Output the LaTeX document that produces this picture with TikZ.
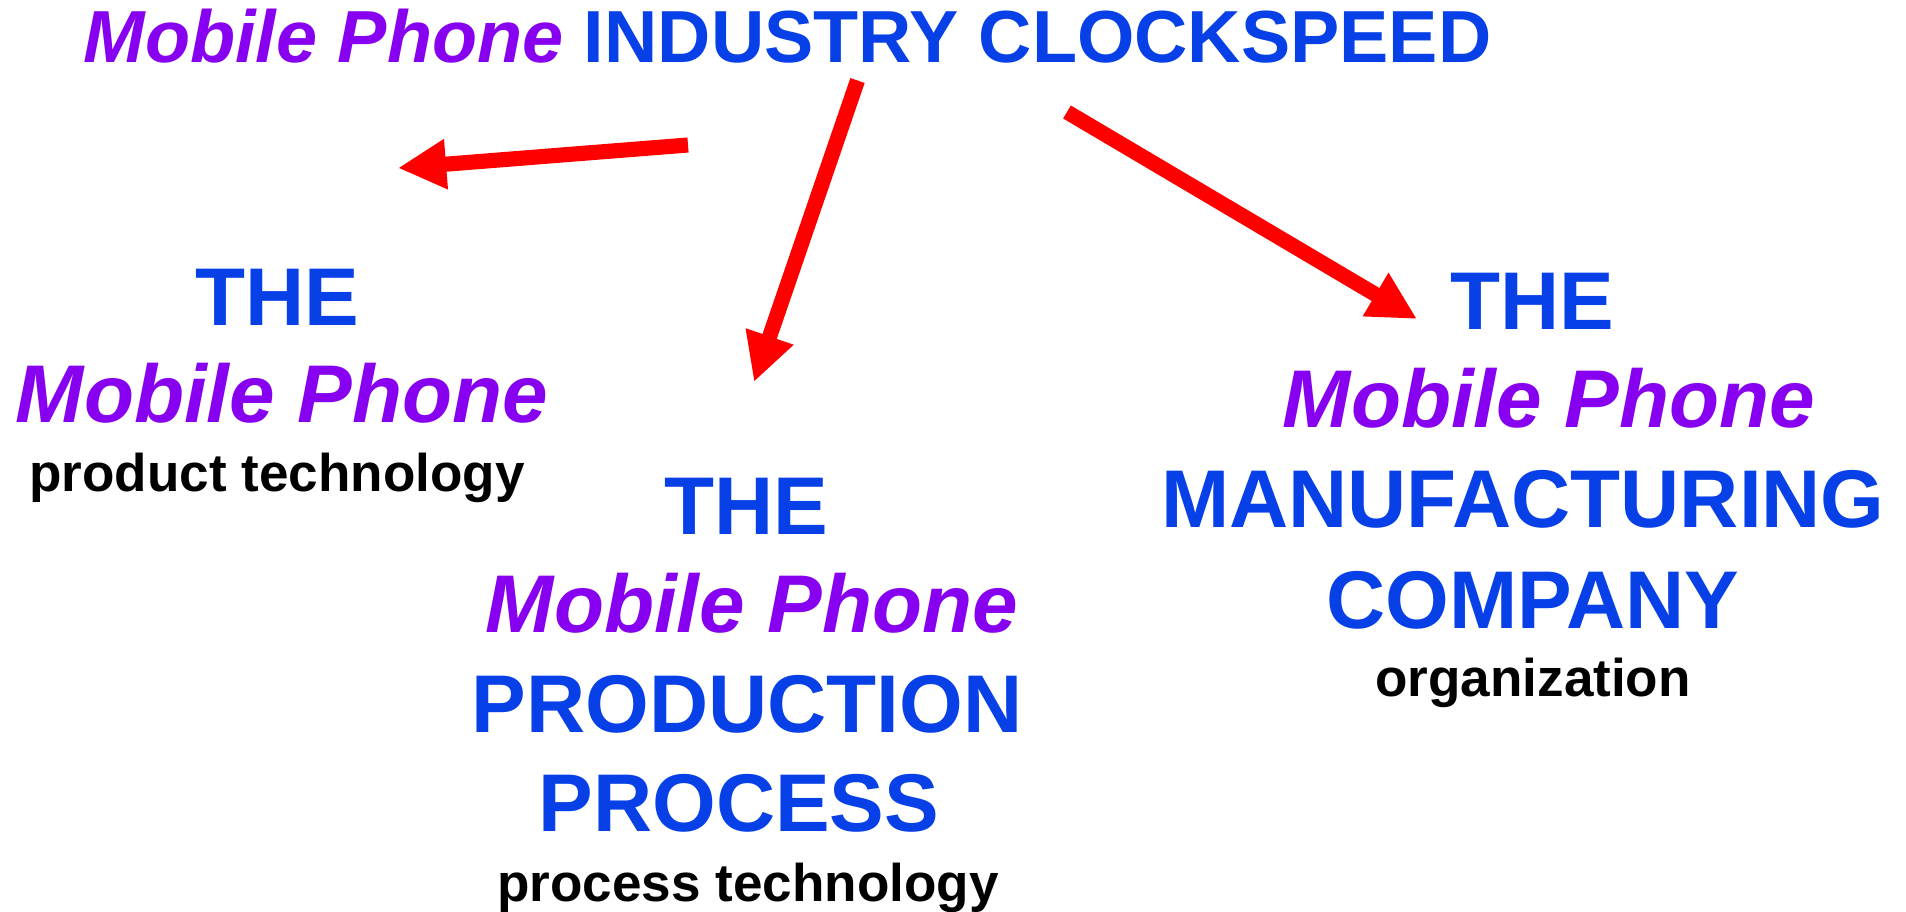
\documentclass[tikz,border=0pt]{standalone}
\usepackage{fontspec}
\setmainfont{Liberation Sans}
\usetikzlibrary{arrows.meta}
\definecolor{tblue}{RGB}{8,64,232}
\definecolor{tpurple}{RGB}{136,0,240}
\definecolor{tred}{RGB}{255,0,0}
\tikzset{
  titletext/.style={anchor=base west, inner sep=0pt, font=\fontsize{21}{25}\selectfont\bfseries, text=tblue},
  big/.style={anchor=base, inner sep=0pt, font=\fontsize{23.3}{28}\selectfont\bfseries, text=tblue},
  phone/.style={anchor=base, inner sep=0pt, font=\fontsize{23.3}{28}\selectfont\bfseries\itshape, text=tpurple},
  small/.style={anchor=base, inner sep=0pt, font=\fontsize{15.1}{18}\selectfont\bfseries, text=black},
  arr/.style={draw=tred, line width=4.3pt, -{Triangle[length=13.7pt,width=13.4pt]}},
}
\begin{document}
\begin{tikzpicture}[x=0.1mm,y=-0.1mm]
\useasboundingbox (0,0) rectangle (1906,912);
% title
\node[titletext] (title) at (83,63) {\textcolor{tpurple}{\itshape Mobile Phone} INDUSTRY CLOCKSPEED};
% left group
\node[big] (lthe) at (277,326) {THE};
\node[phone] (lmob) at (282,423) {Mobile Phone};
\node[small] (ltech) at (277,492) {product technology};
% middle group
\node[big] (mthe) at (746,534) {THE};
\node[phone] (mmob) at (752,633) {Mobile Phone};
\node[big] (mprod) at (747,732) {PRODUCTION};
\node[big] (mproc) at (739,831) {PROCESS};
\node[small] (mtech) at (748,901) {process technology};
% right group
\node[big] (rthe) at (1532,330) {THE};
\node[phone] (rmob) at (1549,428) {Mobile Phone};
\node[big] (rman) at (1523,528) {MANUFACTURING};
\node[big] (rcomp) at (1533,628) {COMPANY};
\node[small] (rorg) at (1533,696) {organization};
% arrows
\coordinate (a1s) at (688,145);
\coordinate (a1e) at (398,168);
\coordinate (a2s) at (857.5,80.5);
\coordinate (a2e) at (754,382);
\coordinate (a3s) at (1067,112);
\coordinate (a3e) at (1417,319);
\draw[arr] (a1s) -- (a1e);
\draw[arr] (a2s) -- (a2e);
\draw[arr] (a3s) -- (a3e);
\end{tikzpicture}
\end{document}
